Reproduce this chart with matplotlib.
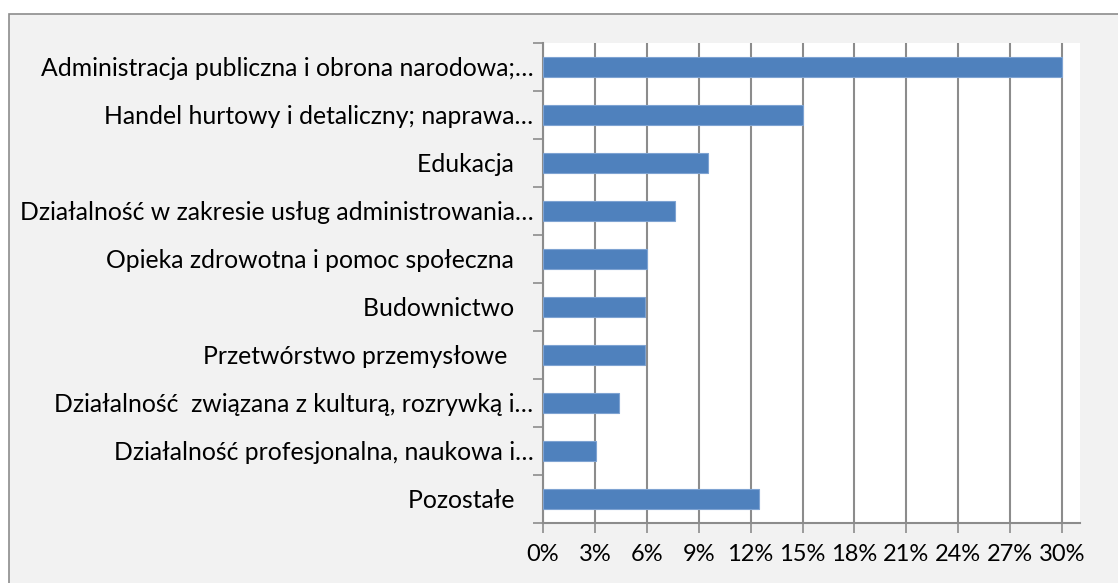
import matplotlib
matplotlib.use("Agg")
import matplotlib.pyplot as plt
from matplotlib.patches import Rectangle
import numpy as np

categories = [
    "Administracja publiczna i obrona narodowa;…",
    "Handel hurtowy i detaliczny; naprawa…",
    "Edukacja   ",
    "Działalność w zakresie usług administrowania…",
    "Opieka zdrowotna i pomoc społeczna   ",
    "Budownictwo   ",
    "Przetwórstwo przemysłowe    ",
    "Działalność  związana z kulturą, rozrywką i…",
    "Działalność profesjonalna, naukowa i…",
    "Pozostałe   ",
]
values = [30.0, 15.0, 9.55, 7.65, 6.0, 5.9, 5.9, 4.4, 3.05, 12.5]
xticks = [0, 3, 6, 9, 12, 15, 18, 21, 24, 27, 30]
xticklabels = [f"{t}%" for t in xticks]

plt.rcParams['font.family'] = ['Lato', 'DejaVu Sans']

W, H = 1118, 583
fig = plt.figure(figsize=(W / 100, H / 100), dpi=100)
fig.patch.set_facecolor("white")
# outer chart area
fig.patches.append(Rectangle((9 / W, -0.05), 1.2, 1 - 14 / H + 0.05, transform=fig.transFigure,
                             facecolor="#f2f2f2", edgecolor="#8c8c8c", linewidth=1.2, zorder=-10))

ax = fig.add_axes([543 / W, 1 - 523 / H, (1080 - 543) / W, 480 / H])
ax.set_zorder(1)
ax.set_facecolor("white")
n = len(categories)
y = np.arange(n)
ax.barh(y, values, height=0.4, color="#4f81bd", edgecolor="#7ea3d2", linewidth=0.8, zorder=3)
ax.set_ylim(n - 0.5, -0.5)
ax.set_xlim(0, 31.04)

ax.set_yticks(y)
ax.set_yticklabels(categories, fontsize=17.8)
ax.set_yticks(np.arange(-0.5, n, 1.0), minor=True)
ax.tick_params(axis="y", which="major", length=0, pad=7)
ax.tick_params(axis="y", which="minor", length=7, width=1.2, color="#8c8c8c")

ax.set_xticks(xticks)
ax.set_xticklabels(xticklabels, fontsize=17)
ax.tick_params(axis="x", length=7, width=1.2, color="#8c8c8c", pad=8)
ax.grid(axis="x", color="#8c8c8c", linewidth=1.5, zorder=0)
ax.set_axisbelow(True)

for s in ["top", "right"]:
    ax.spines[s].set_visible(False)
for s in ["left", "bottom"]:
    ax.spines[s].set_color("#8c8c8c")
    ax.spines[s].set_linewidth(1.5)

fig.savefig("out.png", dpi=100, facecolor=fig.get_facecolor())
